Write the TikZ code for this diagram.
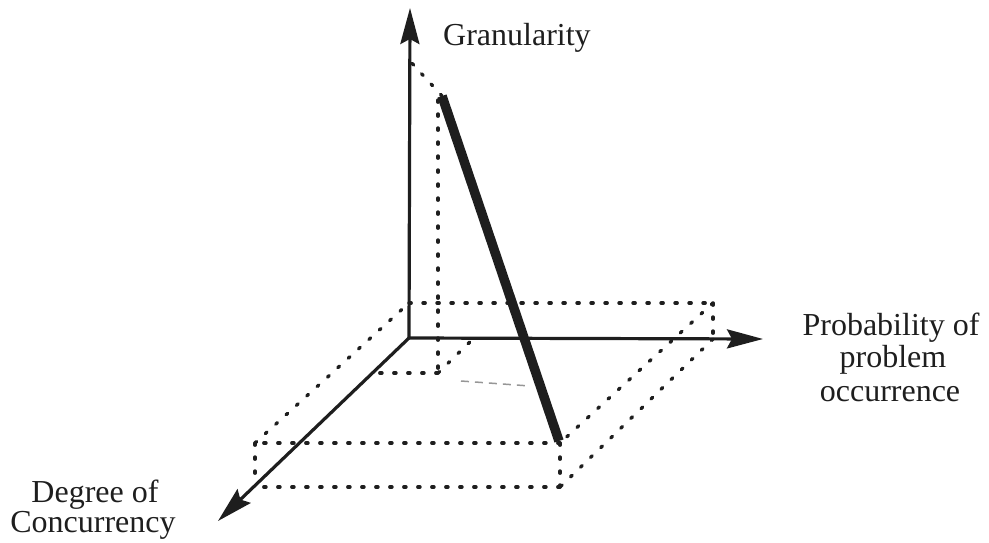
\documentclass[tikz,border=0pt]{standalone}
\usepackage{fontspec}
\setmainfont{Liberation Serif}
\usetikzlibrary{arrows.meta}
\definecolor{ink}{RGB}{30,30,30}
\definecolor{faint}{RGB}{150,150,150}
\begin{document}
\begin{tikzpicture}[x=1pt,y=-1pt,
  axis/.style={ink,line width=3.2pt,-{Stealth[length=36pt,width=19pt,inset=5pt]}},
  dotline/.style={ink,line width=3.4pt,line cap=round,dash pattern=on 2.2pt off 11.8pt},
  bar/.style={ink,line width=9.5pt},
  lbl/.style={font=\fontsize{32}{34}\selectfont,text=ink,inner sep=0pt,anchor=base}]
\useasboundingbox (0,0) rectangle (989,543);
% key points (pixel coordinates, y downwards)
\coordinate (O) at (409,338);
\coordinate (Ztip) at (410,8);
\coordinate (Xtip) at (763,339);
\coordinate (Ytip) at (218,521);
\coordinate (T) at (442,96);
\coordinate (B) at (559,441);
\coordinate (ZT) at (409,60);
\coordinate (Ttop) at (438,100);
\coordinate (FT) at (438,373);
\coordinate (FTy) at (373,373);
\coordinate (FTx) at (474,338);
\coordinate (U0) at (409,303);
\coordinate (U1) at (713,303);
\coordinate (U2) at (560,443);
\coordinate (U3) at (255,443);
\coordinate (X1) at (713,339);
\coordinate (L2) at (560,487);
\coordinate (L3) at (258,487);
\coordinate (U3b) at (255,481);
\coordinate (F1) at (461,381);
\coordinate (F2) at (530,386);
% dotted construction lines
\draw[dotline] (T) -- (ZT);
\draw[dotline] (Ttop) -- (FT);
\draw[dotline] (FT) -- (FTy);
\draw[dotline] (FT) -- (FTx);
\draw[dotline] (U0) -- (U1);
\draw[dotline] (U1) -- (U2);
\draw[dotline] (U2) -- (U3);
\draw[dotline] (U3) -- (U0);
\draw[dotline] (U1) -- (X1);
\draw[dotline] (U2) -- (L2);
\draw[dotline] (U3) -- (U3b);
\draw[dotline] (X1) -- (L2);
\draw[dotline] (L2) -- (L3);
\draw[faint,line width=1.5pt,dash pattern=on 8pt off 6pt] (F1) -- (F2);
% axes
\draw[axis] (O) -- (Ztip);
\draw[axis] (O) -- (Xtip);
\draw[axis] (O) -- (Ytip);
% thick bar
\draw[bar] (T) -- (B);
% labels
\node[lbl,anchor=base west] (gran) at (443,46) {Granularity};
\node[lbl] (prob1) at (891,335) {Probability of};
\node[lbl] (prob2) at (893,367) {problem};
\node[lbl] (prob3) at (890,401) {occurrence};
\node[lbl] (deg1) at (95,502) {Degree of};
\node[lbl] (deg2) at (93,532) {Concurrency};
\end{tikzpicture}
\end{document}
